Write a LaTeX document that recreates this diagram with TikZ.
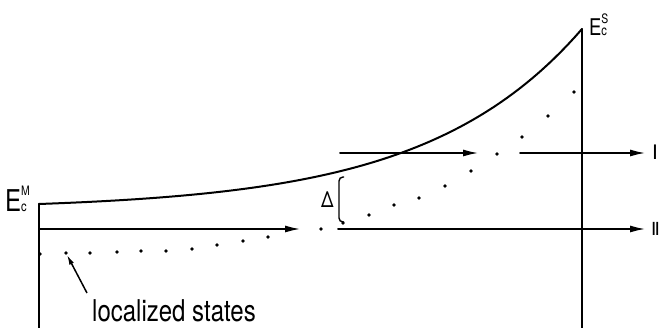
\documentclass[tikz,border=0pt]{standalone}
\usepackage{fontspec}
\setmainfont[FakeStretch=0.8]{TeX Gyre Heros}
\newfontfamily\numfont{DejaVu Sans}
\usetikzlibrary{arrows.meta}
\newcommand{\bandedge}[1]{E\rlap{\raisebox{0.56em}{\fontsize{13}{13}\selectfont #1}}\raisebox{0pt}{\fontsize{14}{14}\selectfont c}}

\begin{document}
\begin{tikzpicture}[
  x=1pt, y=-1pt,
  line/.style={line width=2pt, line cap=round},
  arr/.style={line, -{Latex[length=16pt,width=7pt]}},
  dot/.style={circle, fill=black, inner sep=0pt, minimum size=3.8pt},
  lab/.style={inner sep=0pt, font=\fontsize{30}{32}\selectfont},
  every node/.style={inner sep=0pt}
]
  \useasboundingbox (0,0) rectangle (662,328);

  % band edges
  \coordinate (M0) at (39,204);
  \coordinate (M1) at (39,328);
  \coordinate (S0) at (582,29);
  \coordinate (S1) at (582,328);
  \draw[line] (M0) -- (M1);
  \draw[line] (S0) -- (S1);
  \draw[line] plot[domain=39:582, samples=80] (\x, {204 - 5.56*(exp((\x-39)/156)-1)});

  \node[anchor=base west, font=\fontsize{30}{32}\selectfont] (EM) at (5,212) {\bandedge{M}};
  \node[anchor=base west, font=\fontsize{23}{25}\selectfont] (ES) at (589,36) {\bandedge{S}};

  % level I
  \coordinate (Ia) at (340,153);
  \coordinate (Ib) at (479,153);
  \coordinate (Ic) at (520,153);
  \coordinate (Id) at (646,153);
  \draw[arr] (Ia) -- (Ib);
  \draw[arr] (Ic) -- (Id);
  \node[anchor=base west, font=\numfont\fontsize{20}{20}\selectfont] (I) at (652,160) {Ⅰ};

  % level II
  \coordinate (IIa) at (39,229);
  \coordinate (IIb) at (301,229);
  \coordinate (IIc) at (338,229);
  \coordinate (IId) at (646,229);
  \draw[arr] (IIa) -- (IIb);
  \draw[arr] (IIc) -- (IId);
  \node[anchor=base west, font=\numfont\fontsize{18}{20}\selectfont] (II) at (651,236) {Ⅱ};

  % localized states
  \foreach \px/\py [count=\i] in {40/254, 66/253, 90/253, 117/252, 141/251, 166/251,
      192/249, 217/245, 243/241, 268/237, 321/229, 343/223, 369/215, 394/205,
      419/198, 445/186, 471/171, 497/154, 522/137, 548/116, 574/92}
    \node[dot] (ls\i) at (\px,\py) {};

  % gap Delta
  \draw[line width=1.4pt, rounded corners=4pt] (344,177) -- (339,177) -- (339,222) -- (344,222);
  \node[anchor=base west, font=\fontsize{22}{22}\selectfont] (D) at (321,208) {Δ};

  \node[lab, anchor=base] (loc) at (174,322) {localized states};
  \coordinate (tail) at (87,293);
  \draw[line width=1.5pt, -{Latex[length=10pt,width=5pt]}] (tail) -- (ls2);
\end{tikzpicture}
\end{document}
